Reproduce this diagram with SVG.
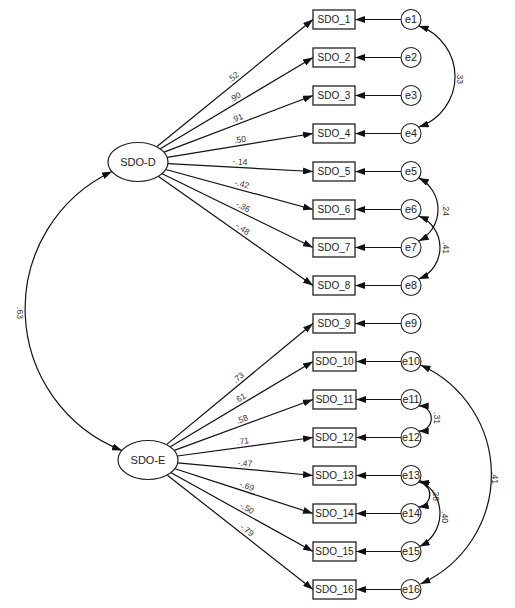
<svg xmlns="http://www.w3.org/2000/svg" width="515" height="608" viewBox="0 0 515 608">
<style>
.box{fill:#fff;stroke:#222;stroke-width:1.3}
.lat{fill:#fff;stroke:#222;stroke-width:1.2}
.err{fill:#fff;stroke:#222;stroke-width:1.1}
.t{font-family:"Liberation Sans",Arial,sans-serif;font-size:10px;fill:#222;text-anchor:middle}
.te{font-family:"Liberation Sans",Arial,sans-serif;font-size:10.8px;fill:#222;text-anchor:middle}
.tl{font-family:"Liberation Sans",Arial,sans-serif;font-size:11px;fill:#222;text-anchor:middle}
.w{font-family:"Liberation Sans",Arial,sans-serif;font-size:8.5px;fill:#333;text-anchor:middle}
.p{fill:none;stroke:#111;stroke-width:1.2;marker-end:url(#ah)}
.c{fill:none;stroke:#111;stroke-width:1.2;marker-start:url(#ah);marker-end:url(#ah)}
</style>
<defs>
<marker id="ah" viewBox="0 0 10 7" refX="10" refY="3.5" markerWidth="10" markerHeight="7" markerUnits="userSpaceOnUse" orient="auto-start-reverse"><path d="M0,0 L10,3.5 L0,7 z" fill="#111"/></marker>
</defs>
<rect width="515" height="608" fill="#fff"/>
<g id="connectors">
<line class="p" x1="157" y1="146.5" x2="313" y2="19.5"/>
<line class="p" x1="160.3" y1="148.7" x2="313" y2="57.5"/>
<line class="p" x1="164.1" y1="152.1" x2="313" y2="95.5"/>
<line class="p" x1="167.1" y1="157.3" x2="313" y2="133.5"/>
<line class="p" x1="167.9" y1="163.6" x2="313" y2="171.5"/>
<line class="p" x1="165.8" y1="169.5" x2="313" y2="209.5"/>
<line class="p" x1="162.2" y1="173.8" x2="313" y2="247.5"/>
<line class="p" x1="158.6" y1="176.5" x2="313" y2="285.5"/>
<line class="p" x1="166.8" y1="444.4" x2="313" y2="323.5"/>
<line class="p" x1="170.3" y1="446.7" x2="313" y2="361.5"/>
<line class="p" x1="174.3" y1="450.4" x2="313" y2="399.5"/>
<line class="p" x1="177.4" y1="456" x2="313" y2="437.5"/>
<line class="p" x1="177.7" y1="462.8" x2="313" y2="475.5"/>
<line class="p" x1="175" y1="468.7" x2="313" y2="513.5"/>
<line class="p" x1="171.1" y1="472.8" x2="313" y2="551.5"/>
<line class="p" x1="167.4" y1="475.2" x2="313" y2="589.5"/>
<line class="p" x1="401" y1="19.5" x2="355" y2="19.5"/>
<line class="p" x1="401" y1="57.5" x2="355" y2="57.5"/>
<line class="p" x1="401" y1="95.5" x2="355" y2="95.5"/>
<line class="p" x1="401" y1="133.5" x2="355" y2="133.5"/>
<line class="p" x1="401" y1="171.5" x2="355" y2="171.5"/>
<line class="p" x1="401" y1="209.5" x2="355" y2="209.5"/>
<line class="p" x1="401" y1="247.5" x2="355" y2="247.5"/>
<line class="p" x1="401" y1="285.5" x2="355" y2="285.5"/>
<line class="p" x1="401" y1="323.5" x2="355" y2="323.5"/>
<line class="p" x1="401" y1="361.5" x2="356" y2="361.5"/>
<line class="p" x1="401" y1="399.5" x2="356" y2="399.5"/>
<line class="p" x1="401" y1="437.5" x2="356" y2="437.5"/>
<line class="p" x1="401" y1="475.5" x2="356" y2="475.5"/>
<line class="p" x1="401" y1="513.5" x2="356" y2="513.5"/>
<line class="p" x1="401" y1="551.5" x2="356" y2="551.5"/>
<line class="p" x1="401" y1="589.5" x2="356" y2="589.5"/>
<path class="c" d="M112,171.5 A152,152 0 0,0 122,450.5"/>
<path class="c" d="M418.7,25.9 A53.4,53.4 0 0,1 418.7,127.1"/>
<path class="c" d="M418.7,177.9 A35.5,35.5 0 0,1 418.7,241.1"/>
<path class="c" d="M418.7,215.9 A34.1,34.1 0 0,1 418.7,279.1"/>
<path class="c" d="M418.7,405.9 A12.6,12.6 0 0,1 418.7,431.1"/>
<path class="c" d="M418.7,481.9 A12.7,12.7 0 0,1 418.7,507.1"/>
<path class="c" d="M419.7,480.5 A37,37 0 0,1 419.7,546.5"/>
<path class="c" d="M420.5,365 A120,120 0 0,1 420.5,584"/>
<text class="w" transform="translate(236.8,81.5) rotate(-39.2)" y="-3">.52</text>
<text class="w" transform="translate(238.1,102.2) rotate(-30.8)" y="-3">.90</text>
<text class="w" transform="translate(239.1,123.6) rotate(-20.8)" y="-3">.91</text>
<text class="w" transform="translate(241,145.3) rotate(-9.3)" y="-3">.50</text>
<text class="w" transform="translate(239.7,167.5) rotate(3.1)" y="-3">-.14</text>
<text class="w" transform="translate(240.4,189.8) rotate(15.2)" y="-3">-.42</text>
<text class="w" transform="translate(240.4,212) rotate(26)" y="-3">-.36</text>
<text class="w" transform="translate(239.5,233.6) rotate(35.2)" y="-3">-.48</text>
<text class="w" transform="translate(242.1,382.1) rotate(-39.6)" y="-3">.73</text>
<text class="w" transform="translate(243.1,403.2) rotate(-30.8)" y="-3">.61</text>
<text class="w" transform="translate(244.1,424.8) rotate(-20.2)" y="-3">.58</text>
<text class="w" transform="translate(243.8,447) rotate(-7.8)" y="-3">.71</text>
<text class="w" transform="translate(244.4,469.1) rotate(5.4)" y="-3">-.47</text>
<text class="w" transform="translate(245.1,491.7) rotate(18.2)" y="-3">-.69</text>
<text class="w" transform="translate(244.1,513.3) rotate(29)" y="-3">-.50</text>
<text class="w" transform="translate(243.3,534.8) rotate(38.1)" y="-3">-.79</text>
<text class="w" transform="translate(17,313) rotate(90)">.63</text>
<text class="w" transform="translate(457,78) rotate(90)">.33</text>
<text class="w" transform="translate(443,210) rotate(90)">.24</text>
<text class="w" transform="translate(443,248) rotate(90)">.41</text>
<text class="w" transform="translate(434,418) rotate(90)">.31</text>
<text class="w" transform="translate(433,495) rotate(90)">.28</text>
<text class="w" transform="translate(442,517) rotate(90)">.40</text>
<text class="w" transform="translate(492,478) rotate(90)">.41</text>
</g>
<g id="SDO-D"><ellipse class="lat" cx="138" cy="162" rx="30" ry="19.5"/><text class="tl" x="138" y="166">SDO-D</text></g>
<g id="SDO-E"><ellipse class="lat" cx="148" cy="460" rx="30" ry="19.5"/><text class="tl" x="148" y="464">SDO-E</text></g>
<g id="SDO_1"><rect class="box" x="313" y="10" width="42" height="19"/><text class="t" x="334" y="23">SDO_1</text></g>
<g id="SDO_2"><rect class="box" x="313" y="48" width="42" height="19"/><text class="t" x="334" y="61">SDO_2</text></g>
<g id="SDO_3"><rect class="box" x="313" y="86" width="42" height="19"/><text class="t" x="334" y="99">SDO_3</text></g>
<g id="SDO_4"><rect class="box" x="313" y="124" width="42" height="19"/><text class="t" x="334" y="137">SDO_4</text></g>
<g id="SDO_5"><rect class="box" x="313" y="162" width="42" height="19"/><text class="t" x="334" y="175">SDO_5</text></g>
<g id="SDO_6"><rect class="box" x="313" y="200" width="42" height="19"/><text class="t" x="334" y="213">SDO_6</text></g>
<g id="SDO_7"><rect class="box" x="313" y="238" width="42" height="19"/><text class="t" x="334" y="251">SDO_7</text></g>
<g id="SDO_8"><rect class="box" x="313" y="276" width="42" height="19"/><text class="t" x="334" y="289">SDO_8</text></g>
<g id="SDO_9"><rect class="box" x="313" y="314" width="42" height="19"/><text class="t" x="334" y="327">SDO_9</text></g>
<g id="SDO_10"><rect class="box" x="313" y="352" width="43" height="19"/><text class="t" x="334.5" y="365">SDO_10</text></g>
<g id="SDO_11"><rect class="box" x="313" y="390" width="43" height="19"/><text class="t" x="334.5" y="403">SDO_11</text></g>
<g id="SDO_12"><rect class="box" x="313" y="428" width="43" height="19"/><text class="t" x="334.5" y="441">SDO_12</text></g>
<g id="SDO_13"><rect class="box" x="313" y="466" width="43" height="19"/><text class="t" x="334.5" y="479">SDO_13</text></g>
<g id="SDO_14"><rect class="box" x="313" y="504" width="43" height="19"/><text class="t" x="334.5" y="517">SDO_14</text></g>
<g id="SDO_15"><rect class="box" x="313" y="542" width="43" height="19"/><text class="t" x="334.5" y="555">SDO_15</text></g>
<g id="SDO_16"><rect class="box" x="313" y="580" width="43" height="19"/><text class="t" x="334.5" y="593">SDO_16</text></g>
<g id="e1"><circle class="err" cx="411" cy="19.5" r="10"/><text class="te" x="411" y="23.3">e1</text></g>
<g id="e2"><circle class="err" cx="411" cy="57.5" r="10"/><text class="te" x="411" y="61.3">e2</text></g>
<g id="e3"><circle class="err" cx="411" cy="95.5" r="10"/><text class="te" x="411" y="99.3">e3</text></g>
<g id="e4"><circle class="err" cx="411" cy="133.5" r="10"/><text class="te" x="411" y="137.3">e4</text></g>
<g id="e5"><circle class="err" cx="411" cy="171.5" r="10"/><text class="te" x="411" y="175.3">e5</text></g>
<g id="e6"><circle class="err" cx="411" cy="209.5" r="10"/><text class="te" x="411" y="213.3">e6</text></g>
<g id="e7"><circle class="err" cx="411" cy="247.5" r="10"/><text class="te" x="411" y="251.3">e7</text></g>
<g id="e8"><circle class="err" cx="411" cy="285.5" r="10"/><text class="te" x="411" y="289.3">e8</text></g>
<g id="e9"><circle class="err" cx="411" cy="323.5" r="10"/><text class="te" x="411" y="327.3">e9</text></g>
<g id="e10"><circle class="err" cx="411" cy="361.5" r="10"/><text class="te" x="411" y="365.3">e10</text></g>
<g id="e11"><circle class="err" cx="411" cy="399.5" r="10"/><text class="te" x="411" y="403.3">e11</text></g>
<g id="e12"><circle class="err" cx="411" cy="437.5" r="10"/><text class="te" x="411" y="441.3">e12</text></g>
<g id="e13"><circle class="err" cx="411" cy="475.5" r="10"/><text class="te" x="411" y="479.3">e13</text></g>
<g id="e14"><circle class="err" cx="411" cy="513.5" r="10"/><text class="te" x="411" y="517.3">e14</text></g>
<g id="e15"><circle class="err" cx="411" cy="551.5" r="10"/><text class="te" x="411" y="555.3">e15</text></g>
<g id="e16"><circle class="err" cx="411" cy="589.5" r="10"/><text class="te" x="411" y="593.3">e16</text></g>
</svg>
